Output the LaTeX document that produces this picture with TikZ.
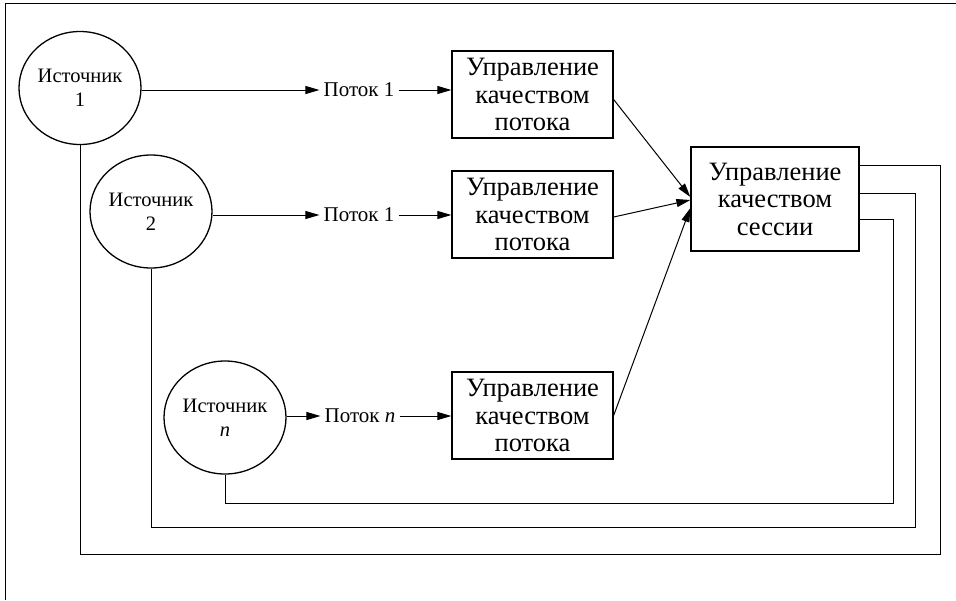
\documentclass[tikz,border=0pt]{standalone}
\usepackage{fontspec}
\setmainfont{Liberation Serif}
\usetikzlibrary{calc}
\usetikzlibrary{arrows.meta,shapes.geometric}

\begin{document}
\begin{tikzpicture}[x=1pt, y=-1pt, line cap=butt, line join=miter,
  src/.style={draw, ellipse, line width=1.3pt, minimum width=122pt, minimum height=113pt, inner sep=0pt, align=center, font=\fontsize{20.5}{24}\selectfont},
  ctl/.style={draw, rectangle, line width=1.3pt, minimum width=161pt, minimum height=87pt, inner sep=0pt, align=center, font=\fontsize{26.5}{27.5}\selectfont},
  flow/.style={inner sep=4pt, font=\fontsize{21}{24}\selectfont},
  arr/.style={line width=1pt, -{Triangle[length=14pt,width=8pt]}},
  fb/.style={line width=1pt}]
\useasboundingbox (0,0) rectangle (956,600);
\draw [line width=1.2pt] (5.5,600) -- (5.5,3.5) -- (956,3.5);
% sources
\node [src] (src1) at (80,88) {Источник\\1};
\node [src] (src2) at (151,211.5) {Источник\\2};
\node [src] (srcn) at (225,417.5) {Источник\\\textit{n}};
% flow labels
\node [flow] (flow1) at (359,90) {Поток 1};
\node [flow] (flow2) at (359,215) {Поток 1};
\node [flow] (flown) at (360,416) {Поток \textit{n}};
% quality control
\node [ctl] (ctl1) at (532.5,94.5) {Управление\\качеством\\потока};
\node [ctl] (ctl2) at (532.5,214.5) {Управление\\качеством\\потока};
\node [ctl] (ctln) at (532.5,415.5) {Управление\\качеством\\потока};
\node [ctl, minimum width=168pt, minimum height=104pt] (sess) at (775,199) {Управление\\качеством\\сессии};
\draw [arr] (src1.east |- flow1) -- (flow1);
\draw [arr] (src2.east |- flow2) -- (flow2);
\draw [arr] (srcn.east |- flown) -- (flown);
\draw [arr] (flow1) -- (ctl1.west |- flow1);
\draw [arr] (flow2) -- (ctl2.west |- flow2);
\draw [arr] (flown) -- (ctln.west |- flown);
\draw [arr] ($(ctl1.east)+(0,5)$) -- ($(sess.west)+(0,-2)$);
\draw [arr] ($(ctl2.east)+(0,2.5)$) -- ($(sess.west)+(0,1)$);
\draw [arr] (ctln.east) -- ($(sess.west)+(0,9)$);
% feedback
\coordinate (c1) at (940,554);
\coordinate (c2) at (915,527);
\coordinate (cn) at (893,503);
\draw [fb] ($(sess.east)+(0,-34)$) -| (c1) -| (src1.south);
\draw [fb] ($(sess.east)+(0,-6)$) -| (c2) -| (src2.south);
\draw [fb] ($(sess.east)+(0,20)$) -| (cn) -| (srcn.south);
\end{tikzpicture}
\end{document}
